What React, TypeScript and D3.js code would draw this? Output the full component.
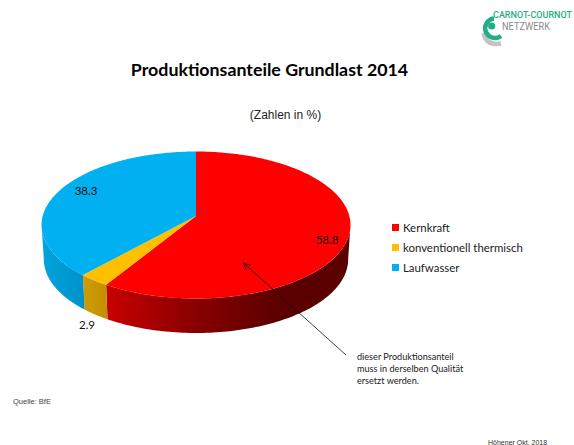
import React from "react";
import * as d3 from "d3";

const categories = ["Kernkraft", "konventionell thermisch", "Laufwasser"];
const values = [58.8, 2.9, 38.3];
const valueLabels = ["58.8", "2.9", "38.3"];
const topColors = ["#ff0000", "#ffc000", "#00b0f0"];
const sideColors = ["url(#redSide)", "url(#orangeSide)", "url(#blueSide)"];
const labelPos = [[327, 244], [87, 329], [86, 195]];
const noteLines = ["dieser Produktionsanteil", "muss in derselben Qualität", "ersetzt werden."];

const W = 574, H = 445;
const CX = 196, APEX = 216, R = 153.3, A = 72.4, C = -0.1224;
const DEPTH = 34.5, SHRINK = 0.985;
const WALL_START = 1.693, WALL_END = 4.59;

const project = (a: number): [number, number] => {
  const u = Math.sin(a), v = -Math.cos(a), d = 1 + C * v;
  return [CX + (R * u) / d, APEX + (A * v) / d];
};
const lower = (a: number): [number, number] => {
  const [x, y] = project(a);
  return [CX + (x - CX) * SHRINK, y + DEPTH];
};
const rangeOf = (a0: number, a1: number) => {
  const n = Math.max(2, Math.ceil((a1 - a0) / 0.02));
  return d3.range(n + 1).map((i) => a0 + ((a1 - a0) * i) / n);
};
const line = d3.line();

export default function App() {
  const arcs = d3.pie<number>().sort(null)(values);
  return (
    <svg width={W} height={H} viewBox={`0 0 ${W} ${H}`}
      style={{ position: "absolute", left: 0, top: 0, display: "block", background: "#fff" }}>
      <defs>
        <linearGradient id="redSide" gradientUnits="userSpaceOnUse" x1={106} x2={280} y1={0} y2={0}>
          <stop offset="0" stopColor="#c80000" />
          <stop offset="0.5" stopColor="#8a0000" />
          <stop offset="1" stopColor="#5a0000" />
        </linearGradient>
        <linearGradient id="orangeSide" gradientUnits="userSpaceOnUse" x1={83} x2={107} y1={0} y2={0}>
          <stop offset="0" stopColor="#d09c00" />
          <stop offset="1" stopColor="#c48f00" />
        </linearGradient>
        <linearGradient id="blueSide" gradientUnits="userSpaceOnUse" x1={43} x2={85} y1={0} y2={0}>
          <stop offset="0" stopColor="#00a4dc" />
          <stop offset="1" stopColor="#0091c6" />
        </linearGradient>
      </defs>

      {arcs.map((s, i) => {
        const a0 = Math.max(s.startAngle, WALL_START);
        const a1 = Math.min(s.endAngle, WALL_END);
        const ang = rangeOf(a0, a1);
        const pts = [...ang.map(project), ...ang.slice().reverse().map(lower)];
        return <path key={i} d={line(pts) + "Z"} fill={sideColors[i]} />;
      })}

      {arcs.map((s, i) => {
        const pts: [number, number][] = [[CX, APEX], ...rangeOf(s.startAngle, s.endAngle).map(project)];
        return <path key={i} d={line(pts) + "Z"} fill={topColors[i]} />;
      })}

      {valueLabels.map((t, i) => (
        <text key={t} x={labelPos[i][0]} y={labelPos[i][1]} textAnchor="middle"
          fontFamily="Lato" fontSize={11.5} fill="#111">{t}</text>
      ))}

      <text x={269.5} y={76} textAnchor="middle" fontFamily="Lato" fontWeight={700} fontSize={17.8} fill="#000">
        Produktionsanteile Grundlast 2014
      </text>
      <text x={285.5} y={119} textAnchor="middle" fontFamily="Liberation Sans" fontSize={12} fill="#222">
        (Zahlen in %)
      </text>

      {categories.map((c, i) => (
        <g key={c}>
          <rect x={392} y={224 + i * 20} width={7} height={7} fill={topColors[i]} />
          <text x={403} y={232 + i * 20} fontFamily="Lato" fontSize={11.4} fill="#222">{c}</text>
        </g>
      ))}

      <line x1={346} y1={355} x2={243.5} y2={263} stroke="#111" strokeWidth={0.8} />
      <path d="M243.5 263 L251 265.5 M243.5 263 L246.5 270.5" stroke="#111" strokeWidth={0.8} fill="none" />
      {noteLines.map((t, i) => (
        <text key={t} x={357} y={359.5 + i * 12.2} fontFamily="Lato" fontSize={9.15} fill="#222">{t}</text>
      ))}

      <text x={13} y={404} fontFamily="Liberation Sans" fontSize={7.5} fill="#444">Quelle: BfE</text>
      <text x={488} y={444.5} fontFamily="Liberation Sans" fontSize={7} fill="#333">Höhener Okt. 2018</text>

      <path d="M483.5 33 Q 486 46 501 43.5" fill="none" stroke="#c4c4c4" strokeWidth={4.5} />
      <path d="M494 18.5 A 9.8 9.8 0 1 0 501 36" fill="none" stroke="#1fae85" strokeWidth={4.5} />
      <circle cx={491.7} cy={26} r={3.6} fill="#1fae85" />
      <text x={493} y={18.3} fontFamily="Roboto" fontWeight={500} fontSize={9.3} fill="#1fae85"
        textLength={79} lengthAdjust="spacingAndGlyphs">CARNOT-COURNOT</text>
      <text x={502} y={30} fontFamily="Roboto" fontWeight={400} fontSize={10} fill="#8a8a8a"
        textLength={48} lengthAdjust="spacingAndGlyphs">NETZWERK</text>
    </svg>
  );
}
